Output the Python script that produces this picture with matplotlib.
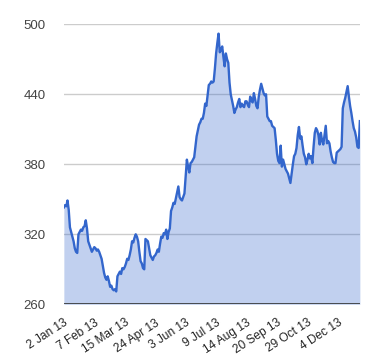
import numpy as np
import matplotlib
matplotlib.use("Agg")
import matplotlib.pyplot as plt

# closing values, one per trading day of 2013
values = [
    343, 345, 344, 349, 341, 326, 322, 318, 314, 308,
    305, 304, 320, 322, 324, 323, 326, 327, 332, 325,
    314, 311, 308, 305, 307, 309, 308, 306, 307, 305,
    302, 299, 293, 287, 283, 281, 284, 280, 275, 276,
    273, 272, 273, 271, 284, 286, 288, 286, 291, 290,
    292, 295, 299, 298, 302, 307, 314, 313, 317, 320,
    318, 314, 305, 297, 295, 291, 290, 316, 315, 314,
    308, 302, 300, 298, 301, 302, 304, 307, 305, 312,
    318, 317, 321, 320, 324, 316, 322, 325, 340, 343,
    347, 346, 351, 356, 361, 352, 350, 349, 352, 355,
    370, 384, 378, 373, 381, 382, 384, 386, 395, 404,
    409, 414, 416, 419, 419, 424, 432, 430, 439, 448,
    449, 451, 450, 451, 462, 475, 484, 492, 476, 478,
    481, 472, 464, 475, 470, 467, 450, 440, 435, 430,
    424, 427, 429, 433, 436, 429, 432, 430, 429, 434,
    434, 431, 429, 438, 435, 433, 441, 436, 430, 428,
    438, 444, 449, 445, 441, 439, 440, 421, 419, 417,
    417, 413, 412, 411, 401, 389, 383, 381, 396, 378,
    384, 380, 376, 374, 372, 368, 364, 372, 380, 387,
    389, 394, 405, 412, 402, 404, 396, 389, 386, 380,
    384, 389, 385, 387, 381, 395, 407, 411, 409, 405,
    397, 407, 400, 397, 405, 413, 398, 400, 398, 391,
    386, 382, 381, 381, 390, 391, 392, 393, 395, 428,
    433, 437, 442, 447, 438, 430, 424, 417, 411, 408,
    403, 395, 394, 417,
]
tick_labels = ["2 Jan 13", "7 Feb 13", "15 Mar 13", "24 Apr 13", "3 Jun 13",
               "9 Jul 13", "14 Aug 13", "20 Sep 13", "29 Oct 13", "4 Dec 13"]
tick_step = 25
y_ticks = [260, 320, 380, 440, 500]

plt.rcParams['font.family'] = ['Liberation Sans', 'DejaVu Sans']

fig = plt.figure(figsize=(3.8, 3.6), dpi=100)
ax = fig.add_axes([0.168, 0.1547, 0.779, 0.7778])

x = np.arange(len(values))
ax.fill_between(x, 260, values, color="#3366cc", alpha=0.3, linewidth=0, zorder=2)
ax.plot(x, values, color="#3366cc", linewidth=1.7, zorder=3)

ax.set_xlim(0, len(values) - 1)
ax.set_ylim(260, 500)
ax.set_yticks(y_ticks)
ax.set_yticklabels([str(v) for v in y_ticks], fontsize=9.5, color="#444444")
ax.set_xticks(np.arange(len(tick_labels)) * tick_step)
ax.set_xticklabels(tick_labels, fontsize=8.6, color="#222222",
                   rotation=33, ha="right", rotation_mode="anchor")
ax.tick_params(axis="both", length=0)
ax.tick_params(axis="y", pad=13)
ax.tick_params(axis="x", pad=9)

for v in y_ticks[1:]:
    ax.axhline(v, color="#cccccc", linewidth=1, zorder=1)
ax.axhline(260, color="#333333", linewidth=1.2, zorder=4)

for s in ax.spines.values():
    s.set_visible(False)

fig.savefig("out.png", dpi=100)
